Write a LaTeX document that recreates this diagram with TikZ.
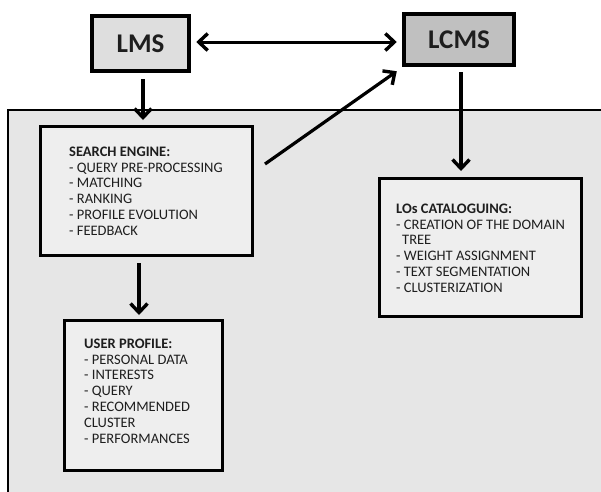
\documentclass[tikz,border=0pt]{standalone}
\usepackage{fontspec}
\setmainfont{Carlito}
\usetikzlibrary{arrows.meta}
\definecolor{bgarea}{HTML}{E6E6E6}
\definecolor{lmsfill}{HTML}{DEDEDE}
\definecolor{lcmsfill}{HTML}{C0C0C0}
\definecolor{boxfill}{HTML}{EEEEEE}
\definecolor{txt}{HTML}{1E1E1E}
\tikzset{
  topbox/.style={draw=black, line width=4.5pt, inner sep=0pt, font=\bfseries\fontsize{27}{30}\selectfont, text=txt},
  innerbox/.style={draw=black, line width=3pt, fill=boxfill, inner sep=0pt},
  listtext/.style={anchor=north west, align=left, inner sep=0pt, text=txt, font=\fontsize{14.5}{15.8}\selectfont},
  conn/.style={line width=3.2pt, -{Straight Barb[length=9pt,width=17pt,line width=3.4pt]}},
  dconn/.style={line width=3pt, {Straight Barb[length=9pt,width=17pt,line width=3.4pt]}-{Straight Barb[length=9pt,width=17pt,line width=3.4pt]}}
}
\begin{document}
\begin{tikzpicture}[x=1pt,y=-1pt]
\useasboundingbox (0,0) rectangle (601,491);
\fill[white] (0,0) rectangle (601,491);
\begin{scope}
\clip (0,0) rectangle (601,491);
\draw[line width=2pt, fill=bgarea] (8,110) rectangle (620,510);
\end{scope}
% top boxes
\node[topbox, fill=lmsfill, minimum width=97pt, minimum height=55pt] (lms) at (140.5,43.5) {LMS};
\node[topbox, fill=lcmsfill, minimum width=110pt, minimum height=51pt] (lcms) at (459,39.5) {LCMS};
% inner boxes
\node[innerbox, minimum width=212pt, minimum height=129pt] (search) at (146.5,191) {};
\node[innerbox, minimum width=158pt, minimum height=150pt] (profile) at (143.5,395.5) {};
\node[innerbox, minimum width=202pt, minimum height=138pt] (los) at (480.5,247.5) {};
% texts
\node[listtext] (searchtxt) at (69,146.5) {\textbf{SEARCH ENGINE:}\\- QUERY PRE-PROCESSING\\- MATCHING\\- RANKING\\- PROFILE EVOLUTION\\- FEEDBACK};
\node[listtext] (profiletxt) at (84,338.5) {\textbf{USER PROFILE:}\\- PERSONAL DATA\\- INTERESTS\\- QUERY\\- RECOMMENDED\\CLUSTER\\- PERFORMANCES};
\node[listtext] (lostxt) at (396,203.5) {\textbf{LOs CATALOGUING:}\\- CREATION OF THE DOMAIN\\\hspace*{6pt}TREE\\- WEIGHT ASSIGNMENT\\- TEXT SEGMENTATION\\- CLUSTERIZATION};
% connectors
\draw[dconn, shorten <=5pt, shorten >=5pt] ([yshift=1.5pt]lms.east) -- ([yshift=1.5pt]lms.east -| lcms.west);
\draw[conn, shorten <=6pt, shorten >=5pt] ([xshift=2.5pt]lms.south) -- ([xshift=2.5pt]lms.south |- search.north);
\coordinate (dstart) at (265,164);
\draw[conn] (dstart) -- ([shift={(-5,4)}]lcms.south west);
\draw[conn, shorten <=5pt, shorten >=6pt] ([xshift=2pt]lcms.south) -- ([xshift=2pt]lcms.south |- los.north);
\draw[conn, shorten <=6pt, shorten >=4pt] ([xshift=-7.5pt]search.south) -- ([xshift=-7.5pt]search.south |- profile.north);
\end{tikzpicture}
\end{document}
